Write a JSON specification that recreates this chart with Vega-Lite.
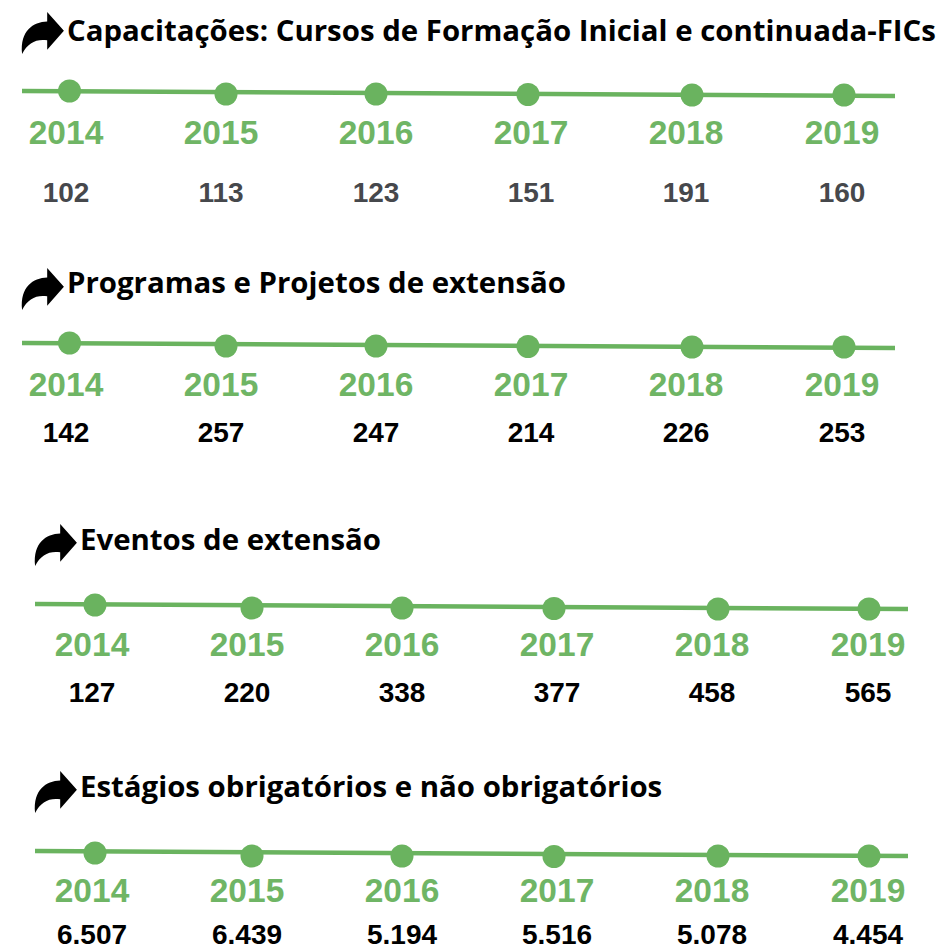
{"$schema":"https://vega.github.io/schema/vega-lite/v6.json","width":939,"height":950,"padding":0,"autosize":{"type":"none"},"background":"white","config":{"view":{"stroke":null},"locale":{"number":{"decimal":",","thousands":".","grouping":[3],"currency":["R$",""]}}},"datasets":{"anos":[{"ordem":1,"ano":2014,"valor":102},{"ordem":1,"ano":2015,"valor":113},{"ordem":1,"ano":2016,"valor":123},{"ordem":1,"ano":2017,"valor":151},{"ordem":1,"ano":2018,"valor":191},{"ordem":1,"ano":2019,"valor":160},{"ordem":2,"ano":2014,"valor":142},{"ordem":2,"ano":2015,"valor":257},{"ordem":2,"ano":2016,"valor":247},{"ordem":2,"ano":2017,"valor":214},{"ordem":2,"ano":2018,"valor":226},{"ordem":2,"ano":2019,"valor":253},{"ordem":3,"ano":2014,"valor":127},{"ordem":3,"ano":2015,"valor":220},{"ordem":3,"ano":2016,"valor":338},{"ordem":3,"ano":2017,"valor":377},{"ordem":3,"ano":2018,"valor":458},{"ordem":3,"ano":2019,"valor":565},{"ordem":4,"ano":2014,"valor":6507},{"ordem":4,"ano":2015,"valor":6439},{"ordem":4,"ano":2016,"valor":5194},{"ordem":4,"ano":2017,"valor":5516},{"ordem":4,"ano":2018,"valor":5078},{"ordem":4,"ano":2019,"valor":4454}],"trilhos":[{"ordem":1,"ano":2013.7},{"ordem":1,"ano":2019.33},{"ordem":2,"ano":2013.7},{"ordem":2,"ano":2019.33},{"ordem":3,"ano":2013.7},{"ordem":3,"ano":2019.33},{"ordem":4,"ano":2013.7},{"ordem":4,"ano":2019.33}],"secoes":[{"ordem":1,"secao":"Capacitações: Cursos de Formação Inicial e continuada-FICs"},{"ordem":2,"secao":"Programas e Projetos de extensão"},{"ordem":3,"secao":"Eventos de extensão"},{"ordem":4,"secao":"Estágios obrigatórios e não obrigatórios"}]},"layer":[
{"data":{"name":"trilhos"},"transform":[{"filter":"datum.ordem===1"}],"mark":{"type":"line","stroke":"#6ab35f","strokeWidth":4.5},"encoding":{"x":{"field":"ano","type":"quantitative","axis":null,"scale":{"domain":[2013.7,2019.33],"range":[22,895]}},"y":{"field":"ano","type":"quantitative","axis":null,"scale":{"domain":[2013.7,2019.33],"range":[91,96]}}}},
{"data":{"name":"trilhos"},"transform":[{"filter":"datum.ordem===2"}],"mark":{"type":"line","stroke":"#6ab35f","strokeWidth":4.5},"encoding":{"x":{"field":"ano","type":"quantitative","axis":null,"scale":{"domain":[2013.7,2019.33],"range":[22,895]}},"y":{"field":"ano","type":"quantitative","axis":null,"scale":{"domain":[2013.7,2019.33],"range":[343,348]}}}},
{"data":{"name":"trilhos"},"transform":[{"filter":"datum.ordem===3"}],"mark":{"type":"line","stroke":"#6ab35f","strokeWidth":4.5},"encoding":{"x":{"field":"ano","type":"quantitative","axis":null,"scale":{"domain":[2013.7,2019.33],"range":[35,908]}},"y":{"field":"ano","type":"quantitative","axis":null,"scale":{"domain":[2013.7,2019.33],"range":[604,609]}}}},
{"data":{"name":"trilhos"},"transform":[{"filter":"datum.ordem===4"}],"mark":{"type":"line","stroke":"#6ab35f","strokeWidth":4.5},"encoding":{"x":{"field":"ano","type":"quantitative","axis":null,"scale":{"domain":[2013.7,2019.33],"range":[35,908]}},"y":{"field":"ano","type":"quantitative","axis":null,"scale":{"domain":[2013.7,2019.33],"range":[851,856]}}}},
{"data":{"name":"anos"},"transform":[{"filter":"datum.ordem===1"}],"mark":{"type":"point","filled":true,"opacity":1,"fill":"#6ab35f","stroke":null,"size":530},"encoding":{"x":{"field":"ano","type":"quantitative","axis":null,"scale":{"domain":[2014,2015,2016,2017,2018,2019],"range":[69.5,226,376,528,692,844]}},"y":{"field":"ano","type":"quantitative","axis":null,"scale":{"domain":[2014,2015,2016,2017,2018,2019],"range":[91,94,94,94.5,95,95]}}}},
{"data":{"name":"anos"},"transform":[{"filter":"datum.ordem===2"}],"mark":{"type":"point","filled":true,"opacity":1,"fill":"#6ab35f","stroke":null,"size":530},"encoding":{"x":{"field":"ano","type":"quantitative","axis":null,"scale":{"domain":[2014,2015,2016,2017,2018,2019],"range":[69.5,226,376,528,692,844]}},"y":{"field":"ano","type":"quantitative","axis":null,"scale":{"domain":[2014,2015,2016,2017,2018,2019],"range":[343,346,346,346.5,347,347]}}}},
{"data":{"name":"anos"},"transform":[{"filter":"datum.ordem===3"}],"mark":{"type":"point","filled":true,"opacity":1,"fill":"#6ab35f","stroke":null,"size":530},"encoding":{"x":{"field":"ano","type":"quantitative","axis":null,"scale":{"domain":[2014,2015,2016,2017,2018,2019],"range":[95,252,402,554,718,869]}},"y":{"field":"ano","type":"quantitative","axis":null,"scale":{"domain":[2014,2015,2016,2017,2018,2019],"range":[605,608,608,608.5,609,609]}}}},
{"data":{"name":"anos"},"transform":[{"filter":"datum.ordem===4"}],"mark":{"type":"point","filled":true,"opacity":1,"fill":"#6ab35f","stroke":null,"size":530},"encoding":{"x":{"field":"ano","type":"quantitative","axis":null,"scale":{"domain":[2014,2015,2016,2017,2018,2019],"range":[95,252,402,554,718,869]}},"y":{"field":"ano","type":"quantitative","axis":null,"scale":{"domain":[2014,2015,2016,2017,2018,2019],"range":[853,856,856,856.5,856,856]}}}},
{"data":{"name":"anos"},"transform":[{"filter":"datum.ordem<=2"}],"mark":{"type":"text","font":"Liberation Sans","fontWeight":"bold","fontSize":33.5,"align":"center","baseline":"middle","fill":"#6fb565"},"encoding":{"text":{"field":"ano","type":"quantitative","format":"d"},"x":{"field":"ano","type":"quantitative","axis":null,"scale":{"domain":[2014,2015,2016,2017,2018,2019],"range":[66,221,376,531,686,842]}},"y":{"field":"ordem","type":"quantitative","axis":null,"scale":{"domain":[1,2],"range":[134,386]}}}},
{"data":{"name":"anos"},"transform":[{"filter":"datum.ordem>=3"}],"mark":{"type":"text","font":"Liberation Sans","fontWeight":"bold","fontSize":33.5,"align":"center","baseline":"middle","fill":"#6fb565"},"encoding":{"text":{"field":"ano","type":"quantitative","format":"d"},"x":{"field":"ano","type":"quantitative","axis":null,"scale":{"domain":[2014,2015,2016,2017,2018,2019],"range":[92,247,402,557,712,868]}},"y":{"field":"ordem","type":"quantitative","axis":null,"scale":{"domain":[3,4],"range":[646,892]}}}},
{"data":{"name":"anos"},"transform":[{"filter":"datum.ordem<=2"}],"mark":{"type":"text","font":"Liberation Sans","fontWeight":"bold","fontSize":28,"align":"center","baseline":"middle"},"encoding":{"text":{"field":"valor","type":"quantitative","format":",d"},"color":{"condition":{"test":"datum.ordem===1","value":"#46484c"},"value":"#000000"},"x":{"field":"ano","type":"quantitative","axis":null,"scale":{"domain":[2014,2015,2016,2017,2018,2019],"range":[66,221,376,531,686,842]}},"y":{"field":"ordem","type":"quantitative","axis":null,"scale":{"domain":[1,2],"range":[194,434]}}}},
{"data":{"name":"anos"},"transform":[{"filter":"datum.ordem>=3"}],"mark":{"type":"text","font":"Liberation Sans","fontWeight":"bold","fontSize":28,"align":"center","baseline":"middle","fill":"#000000"},"encoding":{"text":{"field":"valor","type":"quantitative","format":",d"},"x":{"field":"ano","type":"quantitative","axis":null,"scale":{"domain":[2014,2015,2016,2017,2018,2019],"range":[92,247,402,557,712,868]}},"y":{"field":"ordem","type":"quantitative","axis":null,"scale":{"domain":[3,4],"range":[694,936]}}}},
{"data":{"name":"secoes"},"mark":{"type":"point","filled":true,"opacity":1,"fill":"#000000","stroke":null,"size":1936,"shape":"M0.95 -0.1 L0.19 -0.95 L0.19 -0.52 C-0.45 -0.5 -1.05 -0.1 -0.95 0.95 C-0.7 0.45 -0.3 0.25 0.19 0.33 L0.19 0.76 Z"},"encoding":{"x":{"field":"ordem","type":"quantitative","axis":null,"scale":{"domain":[1,2,3,4],"range":[43,43,56,56]}},"y":{"field":"ordem","type":"quantitative","axis":null,"scale":{"domain":[1,2,3,4],"range":[33,289,545,792]}}}},
{"data":{"name":"secoes"},"mark":{"type":"text","font":"Open Sans","fontWeight":"bold","fontSize":29.4,"align":"left","baseline":"middle","fill":"#000000"},"encoding":{"text":{"field":"secao","type":"nominal"},"x":{"field":"ordem","type":"quantitative","axis":null,"scale":{"domain":[1,2,3,4],"range":[67,67,80,80]}},"y":{"field":"ordem","type":"quantitative","axis":null,"scale":{"domain":[1,2,3,4],"range":[32,284,541,788]}}}}
],"resolve":{"scale":{"x":"independent","y":"independent"}}}
